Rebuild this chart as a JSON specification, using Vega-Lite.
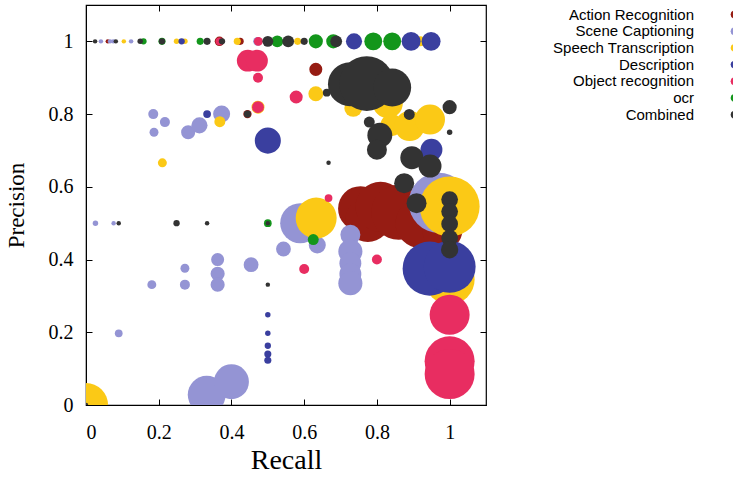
{
  "$schema": "https://vega.github.io/schema/vega-lite/v6.json",
  "width": 400,
  "height": 400,
  "autosize": "none",
  "padding": {"left": 86, "top": 5, "right": 247, "bottom": 72},
  "background": "white",
  "config": {
    "view": {"stroke": "black", "strokeWidth": 1.2},
    "axis": {
      "grid": false,
      "domainColor": "black",
      "tickColor": "black",
      "labelColor": "black",
      "titleColor": "black",
      "labelFont": "Liberation Serif",
      "labelFontSize": 20,
      "titleFont": "Liberation Serif",
      "titleFontSize": 26,
      "titleFontWeight": "normal",
      "tickSize": -6,
      "tickWidth": 1
    },
    "legend": {
      "orient": "none",
      "legendX": 641,
      "legendY": 2,
      "labelAlign": "right",
      "labelOffset": -48,
      "labelFont": "Liberation Sans",
      "labelFontSize": 15,
      "labelColor": "black",
      "labelLimit": 300,
      "symbolType": "circle",
      "symbolSize": 60,
      "symbolStrokeWidth": 0,
      "rowPadding": 0.7
    }
  },
  "data": {
    "values": [
      {"task": "Action Recognition", "recall": 0.06, "precision": 1.0, "n": 2},
      {"task": "Action Recognition", "recall": 0.424, "precision": 1.0, "n": 5},
      {"task": "Action Recognition", "recall": 0.367, "precision": 1.0, "n": 9},
      {"task": "Action Recognition", "recall": 0.444, "precision": 0.8, "n": 7},
      {"task": "Action Recognition", "recall": 0.632, "precision": 0.923, "n": 17},
      {"task": "Action Recognition", "recall": 0.755, "precision": 0.54, "n": 202},
      {"task": "Action Recognition", "recall": 0.775, "precision": 0.51, "n": 202},
      {"task": "Action Recognition", "recall": 0.81, "precision": 0.545, "n": 250},
      {"task": "Action Recognition", "recall": 0.86, "precision": 0.53, "n": 302},
      {"task": "Action Recognition", "recall": 0.92, "precision": 0.5, "n": 250},
      {"task": "Action Recognition", "recall": 0.98, "precision": 0.48, "n": 160},

      {"task": "Scene Captioning", "recall": 0.041, "precision": 1.0, "n": 2},
      {"task": "Scene Captioning", "recall": 0.066, "precision": 1.0, "n": 2},
      {"task": "Scene Captioning", "recall": 0.075, "precision": 1.0, "n": 2},
      {"task": "Scene Captioning", "recall": 0.124, "precision": 1.0, "n": 2},
      {"task": "Scene Captioning", "recall": 0.472, "precision": 1.0, "n": 8},
      {"task": "Scene Captioning", "recall": 0.026, "precision": 0.5, "n": 3},
      {"task": "Scene Captioning", "recall": 0.076, "precision": 0.5, "n": 2},
      {"task": "Scene Captioning", "recall": 0.185, "precision": 0.8, "n": 10},
      {"task": "Scene Captioning", "recall": 0.217, "precision": 0.778, "n": 10},
      {"task": "Scene Captioning", "recall": 0.187, "precision": 0.75, "n": 8},
      {"task": "Scene Captioning", "recall": 0.281, "precision": 0.75, "n": 20},
      {"task": "Scene Captioning", "recall": 0.312, "precision": 0.769, "n": 26},
      {"task": "Scene Captioning", "recall": 0.373, "precision": 0.8, "n": 29},
      {"task": "Scene Captioning", "recall": 0.589, "precision": 0.5, "n": 160},
      {"task": "Scene Captioning", "recall": 0.543, "precision": 0.429, "n": 22},
      {"task": "Scene Captioning", "recall": 0.636, "precision": 0.44, "n": 29},
      {"task": "Scene Captioning", "recall": 0.362, "precision": 0.4, "n": 17},
      {"task": "Scene Captioning", "recall": 0.454, "precision": 0.386, "n": 22},
      {"task": "Scene Captioning", "recall": 0.272, "precision": 0.376, "n": 8},
      {"task": "Scene Captioning", "recall": 0.362, "precision": 0.361, "n": 20},
      {"task": "Scene Captioning", "recall": 0.181, "precision": 0.331, "n": 8},
      {"task": "Scene Captioning", "recall": 0.272, "precision": 0.331, "n": 10},
      {"task": "Scene Captioning", "recall": 0.362, "precision": 0.331, "n": 20},
      {"task": "Scene Captioning", "recall": 0.09, "precision": 0.197, "n": 6},
      {"task": "Scene Captioning", "recall": 0.332, "precision": 0.028, "n": 144},
      {"task": "Scene Captioning", "recall": 0.4, "precision": 0.064, "n": 122},
      {"task": "Scene Captioning", "recall": 0.727, "precision": 0.468, "n": 40},
      {"task": "Scene Captioning", "recall": 0.727, "precision": 0.422, "n": 58},
      {"task": "Scene Captioning", "recall": 0.727, "precision": 0.39, "n": 48},
      {"task": "Scene Captioning", "recall": 0.727, "precision": 0.36, "n": 48},
      {"task": "Scene Captioning", "recall": 0.727, "precision": 0.335, "n": 58},
      {"task": "Scene Captioning", "recall": 0.97, "precision": 0.556, "n": 360},

      {"task": "Speech Transcription", "recall": 0.104, "precision": 1.0, "n": 2},
      {"task": "Speech Transcription", "recall": 0.249, "precision": 1.0, "n": 3},
      {"task": "Speech Transcription", "recall": 0.272, "precision": 1.0, "n": 3},
      {"task": "Speech Transcription", "recall": 0.416, "precision": 1.0, "n": 5},
      {"task": "Speech Transcription", "recall": 0.582, "precision": 1.0, "n": 5},
      {"task": "Speech Transcription", "recall": 0.919, "precision": 1.0, "n": 10},
      {"task": "Speech Transcription", "recall": 0.473, "precision": 0.819, "n": 17},
      {"task": "Speech Transcription", "recall": 0.368, "precision": 0.779, "n": 12},
      {"task": "Speech Transcription", "recall": 0.21, "precision": 0.666, "n": 8},
      {"task": "Speech Transcription", "recall": 0.633, "precision": 0.514, "n": 168},
      {"task": "Speech Transcription", "recall": 0.0, "precision": 0.0, "n": 194},
      {"task": "Speech Transcription", "recall": 0.632, "precision": 0.856, "n": 22},
      {"task": "Speech Transcription", "recall": 0.735, "precision": 0.817, "n": 32},
      {"task": "Speech Transcription", "recall": 0.83, "precision": 0.83, "n": 90},
      {"task": "Speech Transcription", "recall": 0.84, "precision": 0.77, "n": 48},
      {"task": "Speech Transcription", "recall": 0.89, "precision": 0.767, "n": 90},
      {"task": "Speech Transcription", "recall": 0.946, "precision": 0.785, "n": 90},
      {"task": "Speech Transcription", "recall": 1.0, "precision": 0.546, "n": 360},
      {"task": "Speech Transcription", "recall": 1.0, "precision": 0.345, "n": 250},

      {"task": "Description", "recall": 0.263, "precision": 1.0, "n": 4},
      {"task": "Description", "recall": 0.737, "precision": 1.0, "n": 26},
      {"task": "Description", "recall": 0.894, "precision": 1.0, "n": 36},
      {"task": "Description", "recall": 0.949, "precision": 1.0, "n": 36},
      {"task": "Description", "recall": 0.333, "precision": 0.8, "n": 6},
      {"task": "Description", "recall": 0.5, "precision": 0.727, "n": 68},
      {"task": "Description", "recall": 0.95, "precision": 0.702, "n": 48},
      {"task": "Description", "recall": 0.5, "precision": 0.248, "n": 3},
      {"task": "Description", "recall": 0.5, "precision": 0.197, "n": 3},
      {"task": "Description", "recall": 0.5, "precision": 0.163, "n": 4},
      {"task": "Description", "recall": 0.5, "precision": 0.14, "n": 5},
      {"task": "Description", "recall": 0.5, "precision": 0.123, "n": 5},
      {"task": "Description", "recall": 0.945, "precision": 0.375, "n": 292},
      {"task": "Description", "recall": 1.0, "precision": 0.38, "n": 270},

      {"task": "Object recognition", "recall": 0.367, "precision": 1.0, "n": 6},
      {"task": "Object recognition", "recall": 0.474, "precision": 1.0, "n": 8},
      {"task": "Object recognition", "recall": 0.445, "precision": 0.947, "n": 48},
      {"task": "Object recognition", "recall": 0.47, "precision": 0.947, "n": 48},
      {"task": "Object recognition", "recall": 0.473, "precision": 0.9, "n": 10},
      {"task": "Object recognition", "recall": 0.473, "precision": 0.819, "n": 14},
      {"task": "Object recognition", "recall": 0.578, "precision": 0.847, "n": 17},
      {"task": "Object recognition", "recall": 0.667, "precision": 0.569, "n": 6},
      {"task": "Object recognition", "recall": 0.6, "precision": 0.374, "n": 10},
      {"task": "Object recognition", "recall": 0.8, "precision": 0.4, "n": 10},
      {"task": "Object recognition", "recall": 1.0, "precision": 0.248, "n": 160},
      {"task": "Object recognition", "recall": 1.0, "precision": 0.12, "n": 250},
      {"task": "Object recognition", "recall": 1.0, "precision": 0.085, "n": 250},

      {"task": "ocr", "recall": 0.158, "precision": 1.0, "n": 4},
      {"task": "ocr", "recall": 0.209, "precision": 1.0, "n": 5},
      {"task": "ocr", "recall": 0.314, "precision": 1.0, "n": 5},
      {"task": "ocr", "recall": 0.526, "precision": 1.0, "n": 14},
      {"task": "ocr", "recall": 0.632, "precision": 1.0, "n": 20},
      {"task": "ocr", "recall": 0.68, "precision": 1.0, "n": 20},
      {"task": "ocr", "recall": 0.79, "precision": 1.0, "n": 32},
      {"task": "ocr", "recall": 0.842, "precision": 1.0, "n": 32},
      {"task": "ocr", "recall": 0.5, "precision": 0.5, "n": 6},
      {"task": "ocr", "recall": 0.625, "precision": 0.455, "n": 12},

      {"task": "Combined", "recall": 0.025, "precision": 1.0, "n": 2},
      {"task": "Combined", "recall": 0.082, "precision": 1.0, "n": 2},
      {"task": "Combined", "recall": 0.149, "precision": 1.0, "n": 3},
      {"task": "Combined", "recall": 0.209, "precision": 1.0, "n": 4},
      {"task": "Combined", "recall": 0.333, "precision": 1.0, "n": 5},
      {"task": "Combined", "recall": 0.374, "precision": 1.0, "n": 4},
      {"task": "Combined", "recall": 0.5, "precision": 1.0, "n": 12},
      {"task": "Combined", "recall": 0.556, "precision": 1.0, "n": 14},
      {"task": "Combined", "recall": 0.6, "precision": 1.0, "n": 5},
      {"task": "Combined", "recall": 0.688, "precision": 1.0, "n": 14},
      {"task": "Combined", "recall": 0.09, "precision": 0.5, "n": 2},
      {"task": "Combined", "recall": 0.249, "precision": 0.5, "n": 4},
      {"task": "Combined", "recall": 0.333, "precision": 0.5, "n": 2},
      {"task": "Combined", "recall": 0.5, "precision": 0.5, "n": 2},
      {"task": "Combined", "recall": 0.5, "precision": 0.331, "n": 2},
      {"task": "Combined", "recall": 0.0, "precision": 0.0, "n": 2},
      {"task": "Combined", "recall": 0.444, "precision": 0.8, "n": 5},
      {"task": "Combined", "recall": 0.667, "precision": 0.666, "n": 2},
      {"task": "Combined", "recall": 0.662, "precision": 0.859, "n": 6},
      {"task": "Combined", "recall": 0.726, "precision": 0.882, "n": 194},
      {"task": "Combined", "recall": 0.772, "precision": 0.884, "n": 300},
      {"task": "Combined", "recall": 0.842, "precision": 0.873, "n": 144},
      {"task": "Combined", "recall": 0.889, "precision": 0.799, "n": 12},
      {"task": "Combined", "recall": 1.0, "precision": 0.819, "n": 20},
      {"task": "Combined", "recall": 1.0, "precision": 0.75, "n": 3},
      {"task": "Combined", "recall": 0.779, "precision": 0.778, "n": 12},
      {"task": "Combined", "recall": 0.808, "precision": 0.742, "n": 62},
      {"task": "Combined", "recall": 0.8, "precision": 0.702, "n": 40},
      {"task": "Combined", "recall": 0.896, "precision": 0.68, "n": 53},
      {"task": "Combined", "recall": 0.946, "precision": 0.657, "n": 53},
      {"task": "Combined", "recall": 0.875, "precision": 0.61, "n": 40},
      {"task": "Combined", "recall": 0.909, "precision": 0.555, "n": 40},
      {"task": "Combined", "recall": 1.0, "precision": 0.565, "n": 28},
      {"task": "Combined", "recall": 1.0, "precision": 0.532, "n": 28},
      {"task": "Combined", "recall": 1.0, "precision": 0.498, "n": 28},
      {"task": "Combined", "recall": 1.0, "precision": 0.459, "n": 28},
      {"task": "Combined", "recall": 1.0, "precision": 0.427, "n": 30}
    ]
  },
  "layer": [
    {
      "mark": {"type": "circle", "opacity": 1, "clip": true},
      "encoding": {
        "x": {
          "field": "recall", "type": "quantitative",
          "scale": {"domain": [0, 1.1], "nice": false},
          "axis": {"title": "Recall", "titleFontSize": 28, "values": [0, 0.2, 0.4, 0.6, 0.8, 1], "format": "~g", "labelPadding": 23, "titlePadding": 4}
        },
        "y": {
          "field": "precision", "type": "quantitative",
          "scale": {"domain": [0, 1.1], "nice": false},
          "axis": {"title": "Precision", "titleFontSize": 23, "values": [0, 0.2, 0.4, 0.6, 0.8, 1], "format": "~g", "labelPadding": 19, "titlePadding": 20}
        },
        "color": {
          "field": "task", "type": "nominal",
          "sort": ["Action Recognition", "Scene Captioning", "Speech Transcription", "Description", "Object recognition", "ocr", "Combined"],
          "scale": {
            "domain": ["Action Recognition", "Scene Captioning", "Speech Transcription", "Description", "Object recognition", "ocr", "Combined"],
            "range": ["#961c13", "#9494d4", "#fbc916", "#3a3f9f", "#e82d61", "#13961b", "#333333"]
          },
          "legend": {"title": null}
        },
        "size": {
          "field": "n", "type": "quantitative",
          "scale": {"type": "linear", "domain": [0, 400], "range": [0, 4000], "zero": true},
          "legend": null
        }
      }
    },
    {
      "mark": {"type": "circle", "opacity": 0},
      "encoding": {
        "x": {
          "field": "recall", "type": "quantitative",
          "scale": {"domain": [0, 1.1], "nice": false},
          "axis": {"orient": "top", "title": null, "labels": false, "domain": false, "values": [0, 0.2, 0.4, 0.6, 0.8, 1]}
        },
        "y": {
          "field": "precision", "type": "quantitative",
          "scale": {"domain": [0, 1.1], "nice": false},
          "axis": {"orient": "right", "title": null, "labels": false, "domain": false, "values": [0, 0.2, 0.4, 0.6, 0.8, 1]}
        }
      }
    }
  ],
  "resolve": {"axis": {"x": "independent", "y": "independent"}}
}
